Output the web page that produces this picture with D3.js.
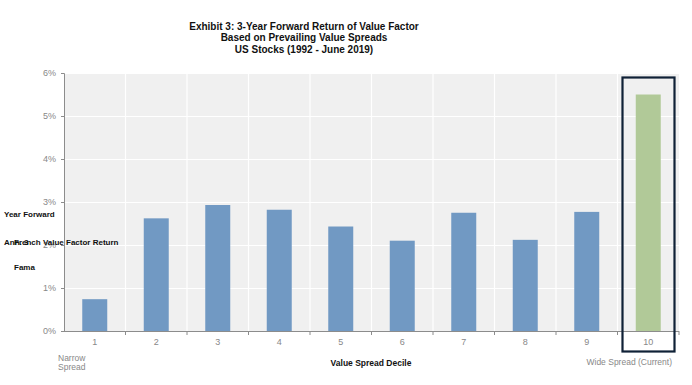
<!DOCTYPE html>
<html>
<head>
<meta charset="utf-8">
<script src="https://cdn.jsdelivr.net/npm/d3@7"></script>
<style>
  body { margin: 0; background: #ffffff; }
  svg { display: block; font-family: "Liberation Sans", Arial, sans-serif; }
</style>
</head>
<body>
<div id="chart"></div>
<script>
// data
const deciles = ["1", "2", "3", "4", "5", "6", "7", "8", "9", "10"];
const returns = [0.74, 2.62, 2.93, 2.82, 2.43, 2.10, 2.75, 2.12, 2.77, 5.50];
const yTicks = [0, 1, 2, 3, 4, 5, 6];
const titleLines = [
  "Exhibit 3: 3-Year Forward Return of Value Factor",
  "Based on Prevailing Value Spreads",
  "US Stocks (1992 - June 2019)"
];
const highlightDecile = "10";

const outerWidth = 692, outerHeight = 385;
const margin = { top: 73, right: 13, bottom: 54, left: 64 };
const width = outerWidth - margin.left - margin.right;
const height = outerHeight - margin.top - margin.bottom;

const root = d3.select("#chart")
  .append("svg")
  .attr("width", outerWidth)
  .attr("height", outerHeight);

// title
root.append("g")
  .selectAll("text")
  .data(titleLines)
  .enter()
  .append("text")
  .attr("x", 304)
  .attr("y", (d, i) => 29.5 + i * 11.5)
  .attr("text-anchor", "middle")
  .attr("font-weight", "bold")
  .attr("font-size", "10px")
  .attr("fill", "#111")
  .text(d => d);

const svg = root.append("g")
  .attr("transform", `translate(${margin.left},${margin.top})`);

const x = d3.scaleBand().domain(deciles).range([0, width]).padding(0);
const y = d3.scaleLinear().domain([0, 6]).range([height, 0]);

// plot background
svg.append("rect")
  .attr("width", width)
  .attr("height", height)
  .attr("fill", "#f0f0f0");

// horizontal grid
svg.append("g")
  .call(d3.axisLeft(y).tickValues(yTicks).tickSize(-width).tickFormat(""))
  .call(g => g.selectAll("line").attr("stroke", "#ffffff").attr("stroke-width", 1.2))
  .call(g => g.select(".domain").remove());

// vertical grid at band edges
svg.append("g")
  .selectAll("line")
  .data(deciles.slice(1))
  .enter()
  .append("line")
  .attr("x1", d => x(d))
  .attr("x2", d => x(d))
  .attr("y1", 0)
  .attr("y2", height)
  .attr("stroke", "#ffffff")
  .attr("stroke-width", 1.2);

// bars
const barW = 25;
svg.selectAll("rect.bar")
  .data(deciles)
  .enter()
  .append("rect")
  .attr("class", "bar")
  .attr("x", d => x(d) + x.bandwidth() / 2 - barW / 2)
  .attr("y", (d, i) => y(returns[i]))
  .attr("width", barW)
  .attr("height", (d, i) => height - y(returns[i]))
  .attr("fill", d => d === highlightDecile ? "#b1c998" : "#7199c3");

// y axis
svg.append("g")
  .call(d3.axisLeft(y).tickValues(yTicks).tickSize(3).tickFormat(d => d + "%"))
  .call(g => g.select(".domain").attr("stroke", "#8c8c8c").attr("d", `M-3,0.5H0.5V${height}`))
  .call(g => g.selectAll("line").attr("stroke", "#8c8c8c"))
  .call(g => g.selectAll("text").attr("fill", "#888").attr("font-size", "9px")
    .attr("font-family", "Liberation Sans, Arial, sans-serif").attr("x", -8));

// x axis: ticks at band edges
const xAxis = svg.append("g").attr("transform", `translate(0,${height})`);
xAxis.append("line")
  .attr("x1", 0).attr("x2", width)
  .attr("y1", 0.5).attr("y2", 0.5)
  .attr("stroke", "#8c8c8c");
xAxis.selectAll("line.tk")
  .data(deciles.slice(1).concat(["end"]))
  .enter()
  .append("line")
  .attr("class", "tk")
  .attr("x1", d => d === "end" ? width : x(d))
  .attr("x2", d => d === "end" ? width : x(d))
  .attr("y1", 0).attr("y2", 4)
  .attr("stroke", "#8c8c8c");
xAxis.selectAll("text")
  .data(deciles)
  .enter()
  .append("text")
  .attr("x", d => x(d) + x.bandwidth() / 2)
  .attr("y", 13.5)
  .attr("text-anchor", "middle")
  .attr("font-size", "9px")
  .attr("fill", "#888")
  .text(d => d);

// highlight box around the current decile
const hx = x(highlightDecile);
svg.append("rect")
  .attr("x", hx + 5)
  .attr("y", 4.5)
  .attr("width", 52)
  .attr("height", 274)
  .attr("fill", "none")
  .attr("stroke", "#0f2136")
  .attr("stroke-width", 2.2);

// axis captions
root.append("text")
  .attr("x", 371).attr("y", 365.5)
  .attr("text-anchor", "middle")
  .attr("font-weight", "bold")
  .attr("font-size", "8.5px")
  .attr("fill", "#111")
  .text("Value Spread Decile");

root.append("text")
  .attr("x", 672).attr("y", 365)
  .attr("text-anchor", "end")
  .attr("font-size", "8.5px")
  .attr("fill", "#888")
  .text("Wide Spread (Current)");

root.append("g")
  .selectAll("text")
  .data(["Narrow", "Spread"])
  .enter()
  .append("text")
  .attr("x", 58)
  .attr("y", (d, i) => 360.5 + i * 9.5)
  .attr("font-size", "8.5px")
  .attr("fill", "#888")
  .text(d => d);

// garbled y-axis title, as it appears in the source
const yTitle = [
  { t: "Year Forward", x: 4, y: 217 },
  { t: "Ann. 3", x: 4, y: 245 },
  { t: "French Value Factor Return", x: 14, y: 245 },
  { t: "Fama", x: 14, y: 269.5 }
];
root.append("g")
  .selectAll("text")
  .data(yTitle)
  .enter()
  .append("text")
  .attr("x", d => d.x)
  .attr("y", d => d.y)
  .attr("font-weight", "bold")
  .attr("font-size", "8px")
  .attr("fill", "#111")
  .text(d => d.t);
</script>
</body>
</html>
